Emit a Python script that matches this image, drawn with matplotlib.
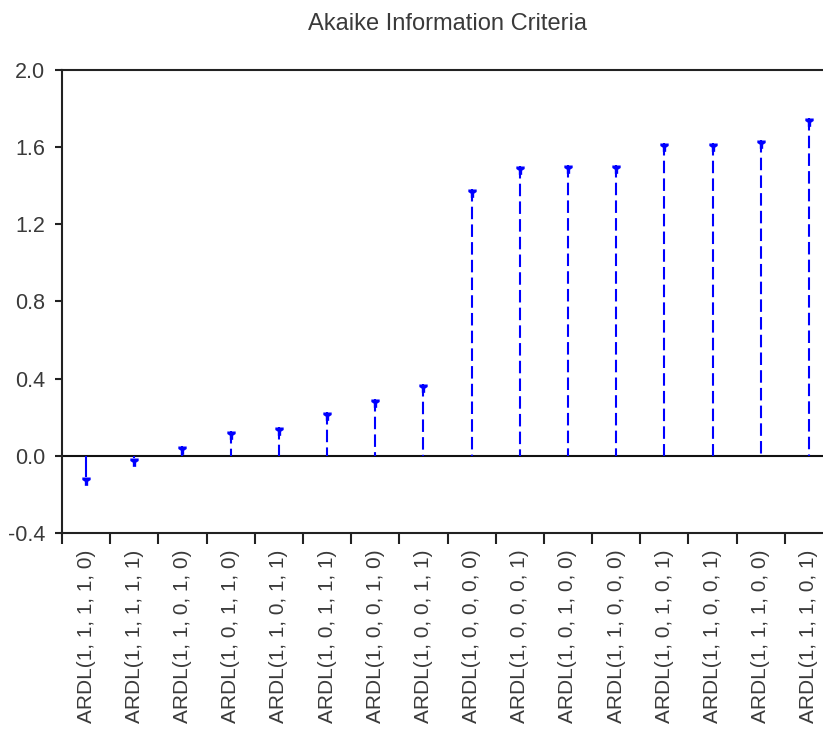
import matplotlib
matplotlib.use("Agg")
import matplotlib.pyplot as plt
import numpy as np

plt.rcParams['font.family'] = ['Liberation Sans', 'DejaVu Sans']

models = ["ARDL(1, 1, 1, 1, 0)", "ARDL(1, 1, 1, 1, 1)", "ARDL(1, 1, 0, 1, 0)",
          "ARDL(1, 0, 1, 1, 0)", "ARDL(1, 1, 0, 1, 1)", "ARDL(1, 0, 1, 1, 1)",
          "ARDL(1, 0, 0, 1, 0)", "ARDL(1, 0, 0, 1, 1)", "ARDL(1, 0, 0, 0, 0)",
          "ARDL(1, 0, 0, 0, 1)", "ARDL(1, 0, 1, 0, 0)", "ARDL(1, 1, 0, 0, 0)",
          "ARDL(1, 0, 1, 0, 1)", "ARDL(1, 1, 0, 0, 1)", "ARDL(1, 1, 1, 0, 0)",
          "ARDL(1, 1, 1, 0, 1)"]
aic = [-0.11, -0.012, 0.05, 0.13, 0.15, 0.225, 0.295, 0.37, 1.385, 1.5,
       1.51, 1.51, 1.62, 1.62, 1.635, 1.75]
yticks = [-0.4, 0.0, 0.4, 0.8, 1.2, 1.6, 2.0]

W, H = 823, 733
fig = plt.figure(figsize=(W / 100, H / 100), dpi=100)
ax = fig.add_axes([62 / W, (H - 533) / H, 771 / W, 463 / H])

x = np.arange(len(models))
blue = '#0000FF'
marker = [(-1, 0), (1, 0), (1, -0.6), (0.4, -1.0), (0.4, -2), (-0.4, -2), (-0.4, -1.0), (-1, -0.6)]
for xi, v in zip(x, aic):
    ls = '-' if v < 0 else (0, (6, 2.5))
    ax.plot([xi, xi], [v, 0], color=blue, lw=1.5, linestyle=ls, solid_capstyle='butt', dash_capstyle='butt')
ax.plot(x, aic, linestyle='none', marker=marker, markersize=12, color=blue, markeredgewidth=0)

ax.axhline(0, color='#111111', lw=1.5, zorder=1)

ax.set_xlim(-0.5, len(models) - 0.5)
ax.set_ylim(-0.4, 2.0)
ax.set_yticks(yticks)
ax.set_yticklabels([f"{t:.1f}" for t in yticks])

ax.set_xticks(np.arange(-0.5, len(models) + 0.5, 1.0))
ax.set_xticklabels([])
ax.set_xticks(x, minor=True)
ax.set_xticklabels(models, minor=True, rotation=90)
ax.tick_params(axis='x', which='minor', length=0, pad=12, labelsize=15, labelcolor='#3a3a3a')
ax.tick_params(axis='x', which='major', length=8, width=1.5, color='#222222', direction='out')
ax.tick_params(axis='y', length=5, width=1.5, color='#222222', direction='out', labelsize=15.5,
               labelcolor='#3a3a3a', pad=7)

for s in ['left', 'bottom', 'top', 'right']:
    ax.spines[s].set_linewidth(1.5)
    ax.spines[s].set_color('#222222')

ax.set_title("Akaike Information Criteria", fontsize=17, color='#3a3a3a', pad=29)

fig.savefig("out.png", dpi=100)
